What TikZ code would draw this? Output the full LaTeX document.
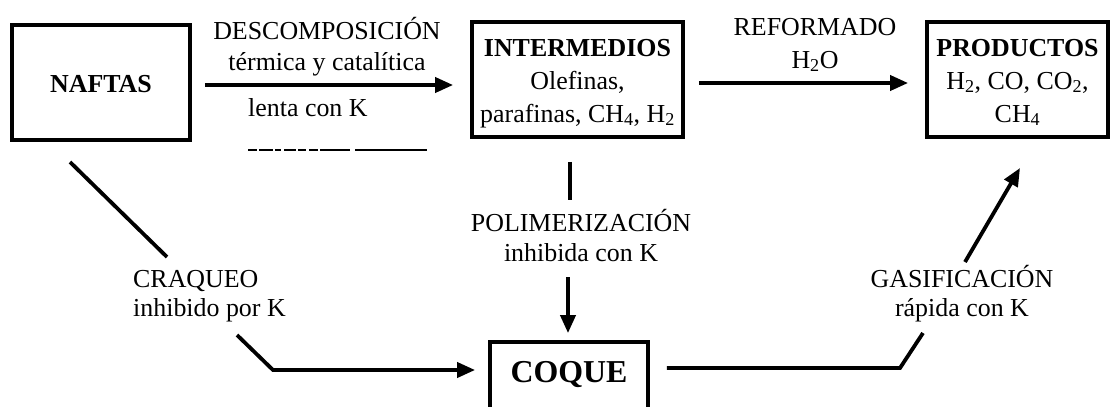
\documentclass[tikz,border=0pt]{standalone}
\usepackage{fontspec}
\setmainfont{Liberation Serif}
\usetikzlibrary{arrows.meta}
\newcommand\diagfont{\fontsize{26}{33}\selectfont}
\newcommand\coquefont{\fontsize{32}{38}\selectfont}
\begin{document}
\begin{tikzpicture}[x=1bp,y=-1bp,
  box/.style={draw, line width=3.8bp, inner sep=0pt, align=center, font=\diagfont},
  lab/.style={inner sep=0pt, font=\diagfont, anchor=base},
  link/.style={line width=3.8bp},
  arr/.style={link, -{Triangle[length=18bp,width=15bp]}},
  stray/.style={line width=2bp}
]
\clip (0,0) rectangle (1112,406);
\fill[white] (0,0) rectangle (1112,406);

% boxes
\node[box, minimum width=178bp, minimum height=115bp, text height=19bp, text depth=0bp] (naftas) at (101,82.5) {\bfseries NAFTAS};
\node[box, minimum width=211bp, minimum height=115bp, text height=91bp, text depth=6bp] (inter) at (577.5,79.5)
  {\textbf{INTERMEDIOS}\\Olefinas,\\parafinas, CH\textsubscript{4}, H\textsubscript{2}};
\node[box, minimum width=181bp, minimum height=115bp, text height=91bp, text depth=6bp] (prod) at (1017.5,79.5)
  {\textbf{PRODUCTOS}\\H\textsubscript{2}, CO, CO\textsubscript{2},\\CH\textsubscript{4}};
\node[box, font=\coquefont\bfseries, minimum width=158bp, minimum height=76bp, text height=21bp, text depth=16bp] (coque) at (569,380) {COQUE};

% labels
\node[lab] (d1) at (327,39) {DESCOMPOSICIÓN};
\node[lab] (d2) at (327,70) {térmica y catalítica};
\node[lab, anchor=base west] (d3) at (248,116) {lenta con K};
\node[lab] (r1) at (815,35) {REFORMADO};
\node[lab] (r2) at (815,68) {H\textsubscript{2}O};
\node[lab] (p1) at (581,231) {POLIMERIZACIÓN};
\node[lab] (p2) at (581,261) {inhibida con K};
\node[lab, anchor=base west] (c1) at (133,287) {CRAQUEO};
\node[lab, anchor=base west] (c2) at (133,316) {inhibido por K};
\node[lab] (g1) at (962,287) {GASIFICACIÓN};
\node[lab] (g2) at (962,316) {rápida con K};

% coordinates
\coordinate (v1) at (570,200);
\coordinate (v2) at (568,277);
\coordinate (k1) at (70,162);
\coordinate (k2) at (167,257);
\coordinate (k3) at (237,335);
\coordinate (k4) at (273,370);
\coordinate (q1) at (900,368);
\coordinate (q2) at (923,333);
\coordinate (q3) at (965,262);
\coordinate (q4) at (1020,168);
\coordinate (s1) at (248,150);
\coordinate (s3) at (355,150);
\coordinate (s2) at (427,150);

% connectors
\draw[arr, shorten <=13bp, shorten >=17bp] (naftas.east |- 0,85) -- (inter.west |- 0,85);
\draw[arr, shorten <=14bp, shorten >=17bp] (inter.east |- 0,83) -- (prod.west |- 0,83);
\draw[link, shorten <=23bp] (v1 |- inter.south) -- (v1);
\draw[arr, shorten >=7bp] (v2) -- (v2 |- coque.north);
\draw[link] (k1) -- (k2);
\draw[arr, shorten >=13bp] (k3) -- (k4) -- (coque.west |- k4);
\draw[link, shorten <=17bp] (coque.east |- q1) -- (q1) -- (q2);
\draw[arr] (q3) -- (q4);

% stray fragment under the first arrow
\draw[stray, dash pattern=on 9bp off 2bp on 14bp off 2bp on 6bp off 3bp on 12bp off 2bp on 8bp off 3bp on 9bp off 2bp on 30bp] (s1) -- (s3);
\draw[stray] (s3) -- (s2);
\end{tikzpicture}
\end{document}
